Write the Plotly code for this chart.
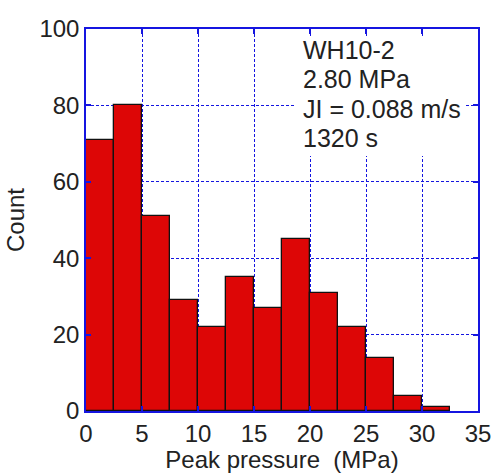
import plotly.graph_objects as go

bin_edges = [0, 2.5, 5, 7.5, 10, 12.5, 15, 17.5, 20, 22.5, 25, 27.5, 30, 32.5]
counts = [71, 80, 51, 29, 22, 35, 27, 45, 31, 22, 14, 4, 1]
x_ticks = [0, 5, 10, 15, 20, 25, 30, 35]
y_ticks = [0, 20, 40, 60, 80, 100]
info_lines = ["WH10-2", "2.80 MPa", "JI = 0.088 m/s", "1320 s"]

centers = [(bin_edges[i] + bin_edges[i + 1]) / 2 for i in range(len(counts))]
widths = [bin_edges[i + 1] - bin_edges[i] for i in range(len(counts))]

FONT = "Liberation Sans, Arial, sans-serif"
BLUE = "#1515e0"
TXT = "#222222"

fig = go.Figure()
fig.add_trace(go.Bar(
    x=centers, y=counts, width=widths,
    marker=dict(color="#dd0606", line=dict(color="#111111", width=1.3)),
    showlegend=False,
))

axis_common = dict(
    showline=True, linecolor=BLUE, linewidth=1.5, mirror="ticks",
    ticks="inside", ticklen=5, tickcolor=BLUE, tickwidth=1.5,
    showgrid=True, gridcolor=BLUE, gridwidth=1, griddash="3px,2px",
    zeroline=False, automargin=False,
    tickfont=dict(family=FONT, size=24, color=TXT),
)

fig.update_xaxes(
    range=[0, 35], tickvals=x_ticks, ticktext=[str(v) for v in x_ticks],
    title=dict(text="Peak pressure\u00a0\u00a0(MPa)", font=dict(family=FONT, size=24, color=TXT), standoff=8),
    **axis_common,
)
fig.update_yaxes(
    range=[0, 100], tickvals=y_ticks, ticktext=[str(v) for v in y_ticks],
    title=dict(text="Count", font=dict(family=FONT, size=24, color=TXT), standoff=8),
    **axis_common,
)

# white box behind the info text (hides the grid there)
fig.add_annotation(
    xref="paper", yref="paper", x=0.751, y=0.8246, xanchor="center", yanchor="middle",
    text=" ", showarrow=False, width=171, height=120,
    bgcolor="white", borderpad=0, borderwidth=0,
)

line_y = [0.945, 0.869, 0.791, 0.715]
for txt, yy in zip(info_lines, line_y):
    fig.add_annotation(
        xref="paper", yref="paper", x=0.548, y=yy, xanchor="left", yanchor="middle",
        text=txt, align="left", showarrow=False,
        font=dict(family=FONT, size=25, color=TXT),
    )

fig.update_layout(
    width=493, height=473,
    margin=dict(l=86, r=15, t=29, b=62),
    paper_bgcolor="white", plot_bgcolor="white",
    bargap=0,
)

fig.write_html("out.html")
